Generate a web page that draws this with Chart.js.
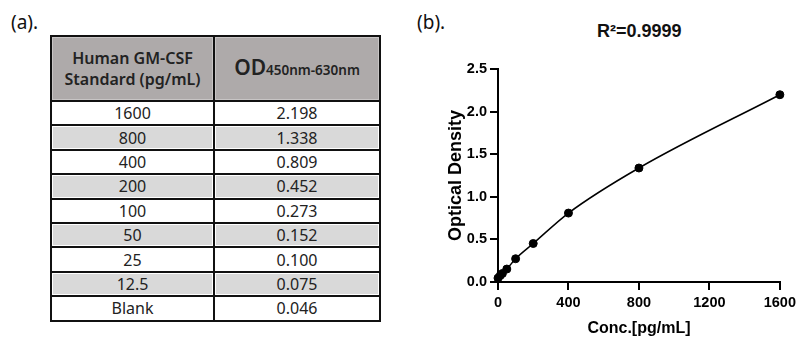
<!DOCTYPE html>
<html>
<head>
<meta charset="UTF-8">
<title>GM-CSF standard curve</title>
<script src="https://cdn.jsdelivr.net/npm/chart.js@4.4.1/dist/chart.umd.min.js"></script>
<style>
  body { margin:0; width:800px; height:341px; background:#fff; position:relative; overflow:hidden; }
  .panel-label { position:absolute; top:9px; font:19px "Noto Sans", sans-serif; color:#111; }
  #r2 { position:absolute; left:597px; top:21px; font:bold 18px "Liberation Sans", Arial, sans-serif; color:#111; }
  #tbl { position:absolute; left:50px; top:35px; width:331px; border-collapse:collapse;
         font:16px "Noto Sans", sans-serif; color:#222; }
  #tbl td, #tbl th { border:2px solid #111; text-align:center; padding:0; height:22.4px; line-height:20px; }
  #tbl th { background:#aeaaaa; height:63px; font-weight:600; font-size:16px; line-height:21px;
            box-shadow: inset 0 0 0 1px #c8c5c5; }
  #tbl th.od { font-size:21px; }
  #tbl th.od sub { font-size:13.5px; vertical-align:baseline; font-weight:600; }
  #tbl tr.g td { background:#d9d9d9; box-shadow: inset 0 0 0 1px #fff; }
  #wrap { position:absolute; left:400px; top:0; width:400px; height:341px; }
</style>
</head>
<body>
<div class="panel-label" style="left:11px">(a).</div>
<div class="panel-label" style="left:417px">(b).</div>
<div id="r2">R²=0.9999</div>

<table id="tbl">
  <thead>
    <tr><th style="width:161px">Human GM-CSF<br>Standard (pg/mL)</th><th class="od">OD<sub>450nm-630nm</sub></th></tr>
  </thead>
  <tbody id="rows"></tbody>
</table>

<div id="wrap"><canvas id="chart" width="400" height="341"></canvas></div>

<script>
// standards as listed in the table
const standardLabels=["1600","800","400","200","100","50","25","12.5","Blank"];
const concentrations=[1600,800,400,200,100,50,25,12.5,0];
const odValues=[2.198,1.338,0.809,0.452,0.273,0.152,0.100,0.075,0.046];

const xTicks=[0,400,800,1200,1600];
const yTicks=[0,0.5,1,1.5,2,2.5];

// fill table
const rows=document.getElementById("rows");
standardLabels.forEach((lab,i)=>{
   const tr=document.createElement("tr");
   if(i%2==1) tr.className="g";
   tr.innerHTML="<td>"+lab+"</td><td>"+odValues[i].toFixed(3)+"</td>";
   rows.appendChild(tr);
});

// points sorted by concentration for the curve
const pts=concentrations.map((c,i)=>({x:c,y:odValues[i]})).sort((a,b)=>a.x-b.x);

const axisFont={family:"'Liberation Sans', Arial, sans-serif",size:14.5,weight:"bold"};

new Chart(document.getElementById("chart"),{
   type:"scatter",
   data:{
      datasets:[
         {
            type:"line",
            data:pts,
            showLine:true,
            borderColor:"#000",
            borderWidth:1.5,
            pointRadius:0,
            cubicInterpolationMode:"monotone",
            fill:false,
            clip:false
         },
         {
            data:pts,
            backgroundColor:"#000",
            borderColor:"#000",
            pointRadius:4,
            clip:false
         }
      ]
   },
   options:{
      responsive:false,
      animation:false,
      events:[],
      layout:{padding:{top:69,right:20,left:0,bottom:0}},
      plugins:{legend:{display:false},tooltip:{enabled:false}},
      scales:{
         x:{
            type:"linear",
            min:0,max:1600,
            afterBuildTicks:s=>{s.ticks=xTicks.map(v=>({value:v}));},
            afterFit:s=>{s.height=59;},
            grid:{drawOnChartArea:false,drawTicks:true,tickLength:8,color:"#000",lineWidth:2},
            border:{color:"#000",width:2},
            ticks:{color:"#000",font:axisFont,padding:4,maxRotation:0,callback:v=>String(v)},
            title:{display:true,text:"Conc.[pg/mL]",color:"#000",
               font:{family:"'Liberation Sans', Arial, sans-serif",size:16,weight:"bold"},
               padding:{top:0,bottom:3}}
         },
         y:{
            type:"linear",
            min:0,max:2.5,
            afterBuildTicks:s=>{s.ticks=yTicks.map(v=>({value:v}));},
            afterFit:s=>{s.width=98;},
            grid:{drawOnChartArea:false,drawTicks:true,tickLength:8,color:"#000",lineWidth:2},
            border:{color:"#000",width:2},
            ticks:{color:"#000",font:axisFont,padding:3,callback:v=>Number(v).toFixed(1)},
            title:{display:true,text:"Optical Density",color:"#000",
               font:{family:"'Liberation Sans', Arial, sans-serif",size:18,weight:"bold"},
               padding:{top:45,bottom:0}}
         }
      }
   }
});
</script>
</body>
</html>
